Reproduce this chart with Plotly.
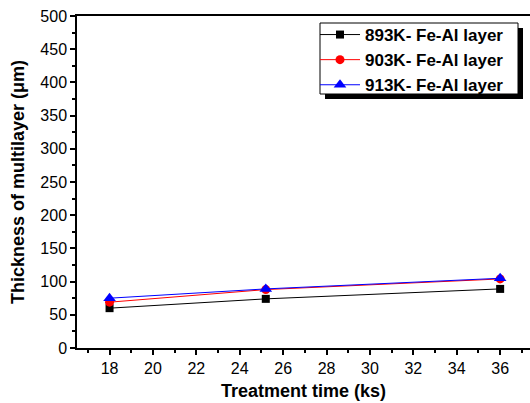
import plotly.graph_objects as go

time_ks = [18, 25.2, 36]
t893 = [60, 74, 89]
t903 = [69, 88, 104]
t913 = [75, 89, 105]
series_names = ["893K- Fe-Al layer", "903K- Fe-Al layer", "913K- Fe-Al layer"]

W, H = 530, 403
ml, mr, mt, mb = 77, 0, 16, 55
pw, ph = W - ml - mr, H - mt - mb

def px_to_paper_x(px):
    return (px - ml) / pw

def px_to_paper_y(py):
    return 1 - (py - mt) / ph

fig = go.Figure()
fig.add_trace(go.Scatter(x=time_ks, y=t893, name=series_names[0], mode="lines+markers",
                         line=dict(color="#000000", width=1),
                         marker=dict(symbol="square", size=8, color="#000000")))
fig.add_trace(go.Scatter(x=time_ks, y=t903, name=series_names[1], mode="lines+markers",
                         line=dict(color="#ff0000", width=1),
                         marker=dict(symbol="circle", size=9, color="#ff0000")))
fig.add_trace(go.Scatter(x=time_ks, y=t913, name=series_names[2], mode="lines+markers",
                         line=dict(color="#0000ff", width=1),
                         marker=dict(symbol="triangle-up", size=11, color="#0000ff")))

font_family = "Liberation Sans, Arial, sans-serif"

# legend shadow and frame
fig.add_shape(type="rect", xref="paper", yref="paper",
              x0=px_to_paper_x(325), x1=px_to_paper_x(523),
              y0=px_to_paper_y(99), y1=px_to_paper_y(28),
              fillcolor="#000000", line=dict(width=0), layer="above")
fig.add_shape(type="rect", xref="paper", yref="paper",
              x0=px_to_paper_x(320), x1=px_to_paper_x(518),
              y0=px_to_paper_y(94), y1=px_to_paper_y(23),
              fillcolor="#ffffff", line=dict(width=1, color="#000000"), layer="above")

fig.update_layout(
    width=W, height=H,
    margin=dict(l=ml, r=mr, t=mt, b=mb),
    paper_bgcolor="white", plot_bgcolor="white",
    font=dict(family=font_family, color="#000000"),
    showlegend=True,
    legend=dict(x=px_to_paper_x(315), y=px_to_paper_y(17), xanchor="left", yanchor="top",
                bgcolor="rgba(0,0,0,0)", borderwidth=0,
                font=dict(size=17, family=font_family, color="#000000", weight="bold"),
                tracegroupgap=0, itemwidth=40),
    xaxis=dict(range=[16.5, 16.5 + pw / 21.7], tickmode="linear", tick0=0, dtick=2,
               ticks="outside", ticklen=5, tickwidth=1.5, tickcolor="#000000",
               minor=dict(dtick=1, ticks="outside", ticklen=3, tickwidth=1.5, tickcolor="#000000"),
               showline=True, linecolor="#000000", linewidth=1.5, mirror=True,
               showgrid=False, zeroline=False,
               tickfont=dict(size=16, family=font_family),
               title=dict(text="Treatment time (ks)", font=dict(size=18, weight="bold"), standoff=8)),
    yaxis=dict(range=[0, 500], tickmode="linear", tick0=0, dtick=50,
               ticks="outside", ticklen=5, tickwidth=1.5, tickcolor="#000000",
               minor=dict(dtick=25, ticks="outside", ticklen=3, tickwidth=1.5, tickcolor="#000000"),
               showline=True, linecolor="#000000", linewidth=1.5, mirror=False,
               showgrid=False, zeroline=False,
               tickfont=dict(size=16, family=font_family),
               title=dict(text="Thickness of multilayer (\u03bcm)", font=dict(size=18, weight="bold"), standoff=11)),
)

fig.write_html("out.html")
